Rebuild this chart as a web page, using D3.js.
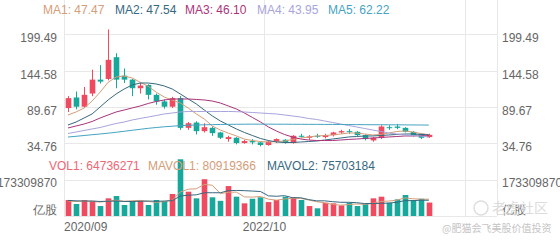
<!DOCTYPE html>
<html>
<head>
<meta charset="utf-8">
<script src="https://cdn.jsdelivr.net/npm/d3@7"></script>
<style>
  body { margin: 0; background: #fff; }
  svg { display: block; font-family: "Liberation Sans", Arial, sans-serif; }
</style>
</head>
<body>
<div id="chart"></div>
<script>
  // monthly bars, 2020/09 .. 2024/06
  const months = [
    "2020/09", "2020/10", "2020/11", "2020/12", "2021/01", "2021/02", "2021/03", "2021/04",
    "2021/05", "2021/06", "2021/07", "2021/08", "2021/09", "2021/10", "2021/11", "2021/12",
    "2022/01", "2022/02", "2022/03", "2022/04", "2022/05", "2022/06", "2022/07", "2022/08",
    "2022/09", "2022/10", "2022/11", "2022/12", "2023/01", "2023/02", "2023/03", "2023/04",
    "2023/05", "2023/06", "2023/07", "2023/08", "2023/09", "2023/10", "2023/11", "2023/12",
    "2024/01", "2024/02", "2024/03", "2024/04", "2024/05", "2024/06"
  ];
  const slotCount = 54; // empty slots after the last month

  const open = [88, 104, 90, 110, 131, 132, 165, 137, 131, 118, 123, 108, 98, 90, 103, 58,
    66, 53, 58, 51, 41, 43, 35, 38, 36, 32, 37, 40, 35, 46, 43, 46,
    44, 47, 51, 53, 52, 47, 39, 43, 59, 60, 58, 52, 49, 44];
  const close = [103, 90, 108, 131, 128, 161, 131, 131, 118, 122, 108, 98, 90, 103, 58, 65,
    53, 59, 50, 43, 44, 35, 38, 36, 32, 37, 41, 35, 46, 45, 45, 45,
    47, 51, 53, 52, 47, 41, 43, 60, 58, 58, 52, 47, 43, 47.47];
  const high = [106, 113, 120, 146, 153, 207, 171, 148, 132, 126, 124, 110, 101, 105, 106, 67,
    68, 65, 60, 52, 46, 44, 40, 41, 37, 39, 42, 41, 47, 49, 47, 49,
    49, 52, 55, 56, 53, 48, 44, 62, 62, 64, 59, 53, 50, 49];
  const low = [82, 86, 88, 106, 125, 130, 118, 126, 106, 110, 101, 93, 87, 88, 55, 55,
    48, 51, 46, 41, 37, 33, 34, 33, 30, 31, 35, 34, 34, 43, 40, 43,
    42, 45, 49, 49, 45, 39, 37, 41, 55, 56, 51, 45, 41, 43];

  // volume in shares
  const volume = [77e6, 58e6, 77e6, 73e6, 48e6, 85e6, 96e6, 53e6, 72e6, 73e6, 53e6, 77e6,
    72e6, 106e6, 273e6, 117e6, 85e6, 177e6, 90e6, 73e6, 144e6, 93e6, 61e6, 83e6,
    90e6, 67e6, 77e6, 93e6, 90e6, 77e6, 48e6, 37e6, 64e6, 61e6, 51e6, 64e6,
    48e6, 58e6, 85e6, 93e6, 64e6, 80e6, 101e6, 77e6, 83e6, 64736271];

  // moving averages
  const ma1 = [77.5, 82, 88, 98.6, 112, 127, 135, 136.5, 133.5, 127, 121, 112, 104.7, 100, 95.6, 88,
    79, 71.4, 60.8, 54.7, 50, 45.7, 41, 38.8, 37.3, 36.6, 37.3, 38, 40.4, 42.6, 44.1, 45.7,
    46.4, 47.2, 48.7, 50.2, 50.2, 48.7, 47.2, 48, 50.2, 52.5, 53.2, 51.7, 49.4, 47.47];
  const ma2 = [62.3, 66.8, 72.9, 79, 89.6, 100.2, 109.3, 116.8, 122.9, 125.9, 125.9, 124.4, 121.4, 116.8, 109.3, 101.7,
    94.2, 85, 76, 68.4, 62.3, 56.3, 51, 46.4, 41.9, 38.8, 36.6, 35.8, 35.8, 36.6, 37.3, 38.1,
    39.6, 41.1, 42.6, 44.2, 44.9, 45.7, 45.7, 46.4, 47.2, 48, 48.7, 48.7, 48, 47.54];
  const ma3 = [57.8, 60.8, 63.8, 67.6, 72.9, 77.5, 82, 85, 88.1, 91.1, 94.9, 97.9, 100.2, 101.7, 101.7, 101.7,
    101, 100.2, 98.6, 95.6, 91.1, 86.5, 80.5, 73.7, 66.9, 59.3, 53.2, 47.9, 44.1, 41.1, 39.6, 38.8,
    38.8, 38.8, 39.6, 40.4, 41.1, 41.9, 42.6, 43.4, 44.2, 44.9, 45.7, 45.7, 46, 46.1];
  const ma4 = [49.4, 51.7, 54, 56.3, 58.5, 61.6, 64.6, 66.9, 69.9, 72.2, 74.4, 76.7, 79, 80.5, 82, 82.8,
    82.8, 82.8, 82.8, 82.8, 82.8, 82.5, 82, 81.2, 80.5, 79.7, 79, 77.5, 76, 74.4, 72.2, 70.7,
    68.4, 66.1, 63.8, 61.6, 59.3, 57, 54.7, 52.5, 50.2, 48.7, 47.2, 46.4, 45.7, 43.95];
  const ma5 = [44.1, 45.2, 46.4, 47.6, 48.7, 49.9, 51.3, 52.8, 54.3, 55.8, 57.3, 58.5, 59.6, 60.5, 61.3, 61.9,
    62.3, 62.6, 62.9, 63.1, 63.3, 63.4, 63.5, 63.6, 63.6, 63.6, 63.5, 63.5, 63.4, 63.4, 63.3, 63.3,
    63.2, 63.2, 63.1, 63, 62.9, 62.8, 62.7, 62.7, 62.6, 62.6, 62.5, 62.4, 62.3, 62.22];

  const mavol1 = [72e6, 70e6, 72e6, 70e6, 67e6, 72e6, 76e6, 71e6, 73e6, 75e6, 70e6, 66e6,
    69e6, 76e6, 116e6, 129e6, 131e6, 152e6, 148e6, 108e6, 114e6, 115e6, 92e6, 91e6,
    94e6, 81e6, 76e6, 82e6, 85e6, 85e6, 77e6, 69e6, 63e6, 56e6, 52e6, 55e6,
    58e6, 56e6, 61e6, 70e6, 72e6, 76e6, 87e6, 83e6, 81e6, 80919366];
  const mavol2 = [75e6, 73e6, 72e6, 72e6, 70e6, 71e6, 72e6, 70e6, 70e6, 71e6, 72e6, 71e6,
    72e6, 74e6, 96e6, 100e6, 102e6, 112e6, 112e6, 112e6, 122e6, 123e6, 122e6, 120e6,
    118e6, 97e6, 95e6, 98e6, 88e6, 88e6, 79e6, 73e6, 73e6, 69e6, 66e6, 66e6,
    64e6, 60e6, 60e6, 61e6, 62e6, 66e6, 74e6, 74e6, 76e6, 75703184];

  const priceTicks = [34.76, 89.67, 144.58, 199.49];
  const volTicks = [173309870];
  const volUnit = "亿股";
  const xTickIdx = [0, 25, 50];

  const maNames = ["MA1", "MA2", "MA3", "MA4", "MA5"];
  const maColors = ["#d59d78", "#36687f", "#a9347b", "#a7a4db", "#45a3c1"];
  const upColor = "#ef4a60";
  const downColor = "#15a89b";
  const gridColor = "#e8e8e8";

  const W = 560, H = 240;
  const left = 64, right = 497;

  const svg = d3.select("#chart").append("svg")
    .attr("width", W)
    .attr("height", H);

  const x = d3.scaleBand().domain(d3.range(slotCount)).range([left, right]);
  const cx = i => x(i) + x.bandwidth() / 2;
  const bodyW = x.bandwidth() * 0.7;

  const yP = d3.scaleLinear().domain([34.76, 199.49]).range([143.2, 34.4]);
  const yV = d3.scaleLinear().domain([0, 173309870]).range([216, 180]);

  // grid
  const grid = svg.append("g").attr("stroke", gridColor).attr("shape-rendering", "crispEdges");
  grid.selectAll(".hp").data(priceTicks).join("line")
    .attr("x1", left).attr("x2", right)
    .attr("y1", d => Math.round(yP(d)) + 0.5).attr("y2", d => Math.round(yP(d)) + 0.5);
  grid.selectAll(".hv").data(volTicks.concat([0])).join("line")
    .attr("x1", left).attr("x2", right)
    .attr("y1", d => Math.round(yV(d)) + 0.5).attr("y2", d => Math.round(yV(d)) + 0.5);
  grid.selectAll(".vx").data(xTickIdx).join("line")
    .attr("x1", d => Math.round(x(d)) + 0.5).attr("x2", d => Math.round(x(d)) + 0.5)
    .attr("y1", 0).attr("y2", 216);
  grid.append("line")
    .attr("x1", right + 0.5).attr("x2", right + 0.5)
    .attr("y1", 0).attr("y2", 216);

  // price axes
  const fmt = d3.format(".2f");
  [["l", d3.axisLeft(yP).tickPadding(7), left], ["r", d3.axisRight(yP).tickPadding(5), right]]
    .forEach(([k, ax, pos]) => {
      const g = svg.append("g")
        .attr("transform", `translate(${pos},0)`)
        .call(ax.tickValues(priceTicks).tickSize(0).tickFormat(fmt));
      g.select(".domain").remove();
      g.selectAll("text").attr("y", 3.5).attr("fill", "#666").attr("font-size", 12);
    });

  // volume axes
  [["l", d3.axisLeft(yV).tickPadding(7), left], ["r", d3.axisRight(yV).tickPadding(5), right]]
    .forEach(([k, ax, pos]) => {
      const g = svg.append("g")
        .attr("transform", `translate(${pos},0)`)
        .call(ax.tickValues(volTicks.concat([0])).tickSize(0)
          .tickFormat(d => d === 0 ? volUnit : d3.format("d")(d)));
      g.select(".domain").remove();
      g.selectAll("text").attr("y", d => d === 0 ? -6 : 3)
        .attr("fill", "#666").attr("font-size", 12);
    });

  // x labels
  svg.append("g").selectAll("text")
    .data(xTickIdx.filter(i => i < months.length))
    .join("text")
    .attr("x", d => x(d))
    .attr("y", 231)
    .attr("text-anchor", (d, i) => i === 0 ? "start" : "middle")
    .attr("fill", "#666")
    .attr("font-size", 12)
    .text(d => months[d]);

  // candles
  const isUp = i => close[i] >= open[i];
  const candles = svg.append("g").selectAll("g")
    .data(months.map((m, i) => i))
    .join("g")
    .attr("fill", i => isUp(i) ? upColor : downColor)
    .attr("stroke", i => isUp(i) ? upColor : downColor);
  candles.append("line")
    .attr("x1", i => Math.round(cx(i)) + 0.5).attr("x2", i => Math.round(cx(i)) + 0.5)
    .attr("y1", i => yP(high[i])).attr("y2", i => yP(low[i]))
    .attr("stroke-width", 1);
  candles.append("rect")
    .attr("stroke", "none")
    .attr("x", i => Math.round(cx(i)) + 0.5 - bodyW / 2)
    .attr("width", bodyW)
    .attr("y", i => Math.min(yP(open[i]), yP(close[i])))
    .attr("height", i => Math.max(1, Math.abs(yP(open[i]) - yP(close[i]))));

  // MA lines
  const lineP = d3.line().x((d, i) => cx(i)).y(d => yP(d));
  [ma1, ma2, ma3, ma4, ma5].forEach((s, k) => {
    svg.append("path").datum(s)
      .attr("fill", "none")
      .attr("stroke", maColors[k])
      .attr("stroke-width", 1)
      .attr("d", lineP);
  });

  // volume bars
  svg.append("g").selectAll("rect")
    .data(volume)
    .join("rect")
    .attr("x", (d, i) => Math.round(cx(i)) + 0.5 - bodyW / 2)
    .attr("width", bodyW)
    .attr("y", d => yV(d))
    .attr("height", d => yV(0) - yV(d))
    .attr("fill", (d, i) => isUp(i) ? upColor : downColor);

  const lineV = d3.line().x((d, i) => cx(i)).y(d => yV(d));
  [[mavol1, maColors[0]], [mavol2, maColors[1]]].forEach(([s, c]) => {
    svg.append("path").datum(s)
      .attr("fill", "none")
      .attr("stroke", c)
      .attr("stroke-width", 1)
      .attr("d", lineV);
  });

  // legends
  const maLast = [ma1, ma2, ma3, ma4, ma5].map(s => s[s.length - 1]);
  const legendX = [43, 115, 185, 257, 328];
  svg.append("g").selectAll("text")
    .data(maNames)
    .join("text")
    .attr("x", (d, i) => legendX[i])
    .attr("y", 14)
    .attr("font-size", 12)
    .attr("fill", (d, i) => maColors[i])
    .text((d, i) => `${d}: ${fmt(maLast[i])}`);

  const volLegend = [
    ["VOL1", volume, "#ee6775", 49],
    ["MAVOL1", mavol1, maColors[0], 148],
    ["MAVOL2", mavol2, maColors[1], 267]
  ];
  svg.append("g").selectAll("text")
    .data(volLegend)
    .join("text")
    .attr("x", d => d[3])
    .attr("y", 170)
    .attr("font-size", 12)
    .attr("fill", d => d[2])
    .text(d => `${d[0]}: ${Math.round(d[1][d[1].length - 1])}`);

  // watermark
  const wm = svg.append("g");
  wm.append("circle").attr("cx", 481).attr("cy", 208).attr("r", 7)
    .attr("fill", "none").attr("stroke", "#dedede").attr("stroke-width", 1.5);
  wm.append("text").attr("x", 492).attr("y", 213).attr("font-size", 14)
    .attr("fill", "#dcdcdc").attr("font-family", "Noto Sans CJK SC").text("老虎社区");
  wm.append("text").attr("x", 442).attr("y", 232).attr("font-size", 10)
    .attr("fill", "#c4c4c4").attr("font-family", "Noto Sans CJK SC").text("@肥猫会飞美股价值投资");
</script>
</body>
</html>
